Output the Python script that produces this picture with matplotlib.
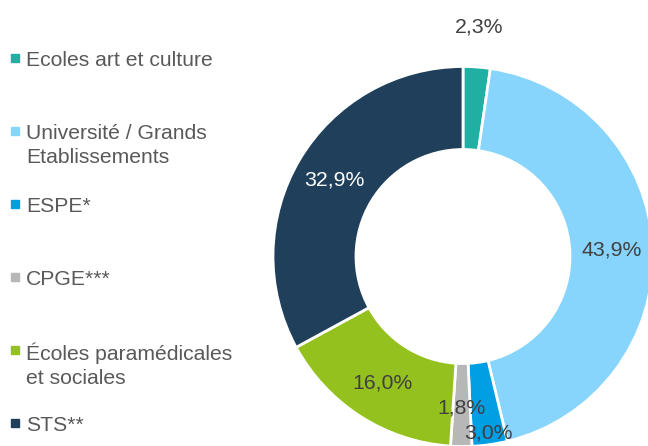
import numpy as np
import matplotlib
matplotlib.use("Agg")
import matplotlib.pyplot as plt
from matplotlib.patches import Rectangle

categories = ["Ecoles art et culture", "Université / Grands\nEtablissements", "ESPE*",
              "CPGE***", "Écoles paramédicales\net sociales", "STS**"]
values = [2.3, 43.9, 3.0, 1.8, 16.0, 32.9]
colors = ["#20B0A3", "#87D5FD", "#009EE2", "#B7B7B7", "#95C11F", "#1F3F5A"]
label_colors = ["#404040", "#404040", "#404040", "#404040", "#404040", "#FFFFFF"]
label_radius = [1.21, 0.785, 0.94, 0.80, 0.79, 0.79]

plt.rcParams['font.family'] = ['Liberation Sans', 'DejaVu Sans']

W, H = 648, 446
fig = plt.figure(figsize=(W / 100, H / 100), dpi=100)

cx, cy, R = 463, 256.5, 190
ax = fig.add_axes([(cx - R) / W, (H - cy - R) / H, 2 * R / W, 2 * R / H])
wedges, _ = ax.pie(values, colors=colors, startangle=90, counterclock=False,
                   radius=1, wedgeprops=dict(width=1 - 107 / 190, edgecolor="white", linewidth=2))
for w in wedges:
    w.set_clip_on(False)
ax.set_xlim(-1, 1)
ax.set_ylim(-1, 1)
ax.set_aspect('equal')
ax.axis('off')

for w, v, r, c in zip(wedges, values, label_radius, label_colors):
    ang = np.deg2rad((w.theta1 + w.theta2) / 2)
    txt = f"{v:.1f}%".replace(".", ",")
    ax.text(r * np.cos(ang), r * np.sin(ang), txt, ha="center", va="center",
            fontsize=15.3, color=c, clip_on=False)

# legend
for i, (cat, col) in enumerate(zip(categories, colors)):
    y = 58 + 73 * i
    fig.patches.append(Rectangle((11 / W, 1 - (y + 4) / H), 8 / W, 8 / H,
                                 transform=fig.transFigure, color=col))
    fig.text(26 / W, 1 - (y - 7) / H, cat, ha="left", va="top", fontsize=15.2,
             color="#595959", linespacing=1.32)

fig.savefig("out.png", dpi=100)
